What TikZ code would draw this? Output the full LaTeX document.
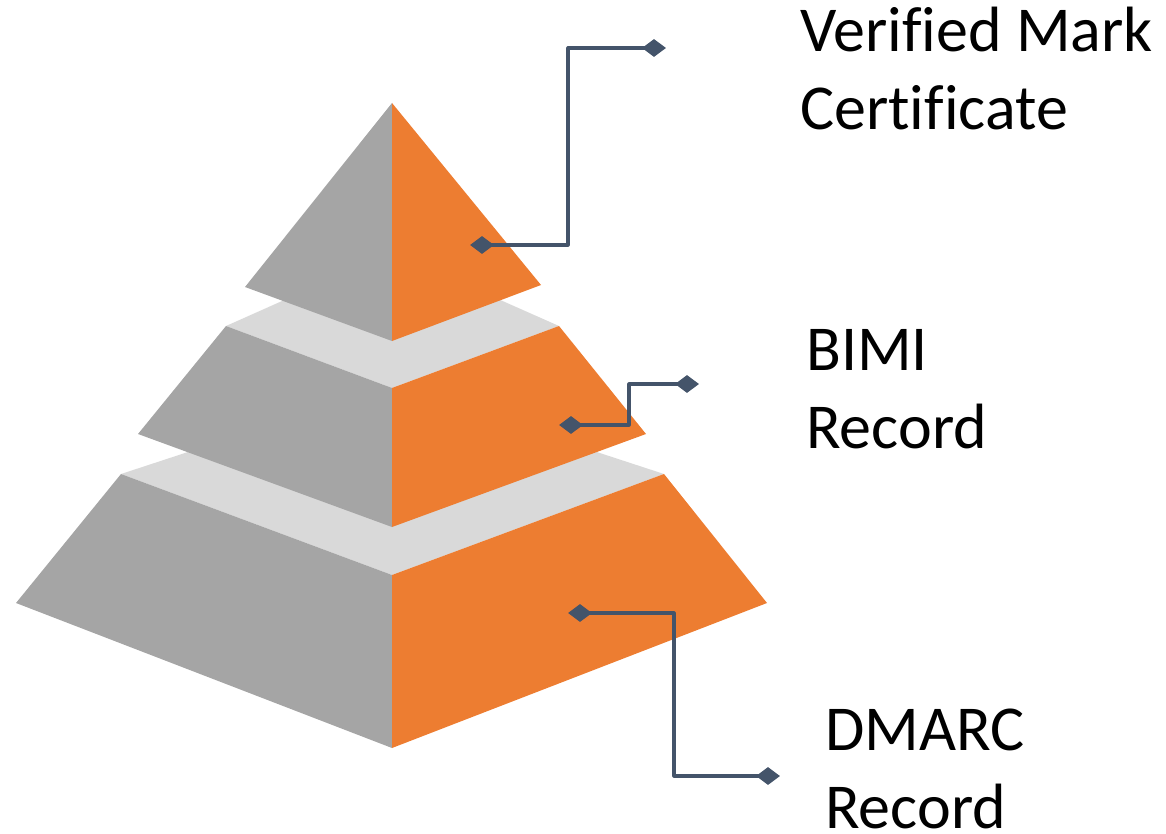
\documentclass[tikz,border=0pt]{standalone}
\usepackage{fontspec}
\setmainfont{Carlito}[Ligatures=CommonOff]
\usetikzlibrary{shapes.geometric}
\definecolor{orng}{HTML}{ED7D31}
\definecolor{grayside}{HTML}{A5A5A5}
\definecolor{lightface}{HTML}{D9D9D9}
\definecolor{conncol}{HTML}{44546A}
\begin{document}
\begin{tikzpicture}[x=1pt,y=-1pt,
  leftface/.style={fill=grayside},
  rightface/.style={fill=orng},
  topface/.style={fill=lightface},
  dmd/.style={shape=diamond,fill=conncol,minimum width=24pt,minimum height=18pt,inner sep=0pt},
  conn/.style={draw=conncol,line width=3.2pt,line join=round},
  lbl/.style={anchor=base west,inner sep=0pt,align=left,font=\fontsize{64}{78}\selectfont}
]
\useasboundingbox (0,0) rectangle (1166,834);
% bottom tier
\fill[topface] (121,474) -- (392,385) -- (664,474) -- (392,575) -- cycle;
\fill[leftface] (121,474) -- (16,603) -- (392,748) -- (392,575) -- cycle;
\fill[rightface] (392,575) -- (392,748) -- (767,603) -- (664,474) -- cycle;
% middle tier
\fill[topface] (226,326) -- (392,252) -- (559,326) -- (392,388) -- cycle;
\fill[leftface] (226,326) -- (138,434) -- (392,527) -- (392,388) -- cycle;
\fill[rightface] (392,388) -- (392,527) -- (646,434) -- (559,326) -- cycle;
% top tier
\fill[leftface] (392,103) -- (245,287) -- (392,341) -- cycle;
\fill[rightface] (392,103) -- (392,341) -- (541,285) -- cycle;
% connector end points
\node[dmd] (a1) at (482,245) {};
\node[dmd] (a2) at (654,48) {};
\node[dmd] (b1) at (571,425) {};
\node[dmd] (b2) at (687,384) {};
\node[dmd] (c1) at (580,613) {};
\node[dmd] (c2) at (768,776) {};
\coordinate (ka) at (568,0);
\coordinate (kb) at (629,0);
\coordinate (kc) at (674,0);
\draw[conn] (a1.center) -- (a1 -| ka) -- (a2 -| ka) -- (a2.center);
\draw[conn] (b1.center) -- (b1 -| kb) -- (b2 -| kb) -- (b2.center);
\draw[conn] (c1.center) -- (c1 -| kc) -- (c2 -| kc) -- (c2.center);
% labels (anchor at baseline of last line)
\node[lbl] (ta) at (800,130) {Verified Mark\\Certificate};
\node[lbl] (tb) at (806,448) {BIMI\\Record};
\node[lbl] (tc) at (825,828) {DMARC\\Record};
\end{tikzpicture}
\end{document}
